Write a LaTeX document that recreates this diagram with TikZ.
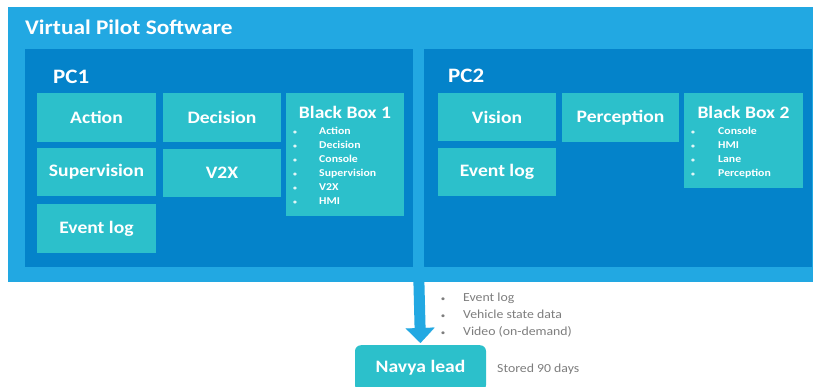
\documentclass[tikz,border=0pt]{standalone}
\usepackage{fontspec}
\setmainfont{Carlito}[FakeStretch=1.12]
\usetikzlibrary{arrows.meta}
\definecolor{outerblue}{RGB}{34,168,226}
\definecolor{pcblue}{RGB}{4,131,202}
\definecolor{tealbox}{RGB}{44,192,203}
\definecolor{graytext}{RGB}{125,125,125}
\begin{document}
\begin{tikzpicture}[x=1pt,y=-1pt,
  panel/.style={anchor=north west, inner sep=0pt, outer sep=0pt, draw=none},
  module/.style={panel, fill=tealbox, text=white, font=\bfseries\fontsize{17.5}{20}\selectfont, align=center},
  bigtitle/.style={anchor=base west, inner sep=0pt, text=white, font=\bfseries\fontsize{20.8}{24}\selectfont},
  pctitle/.style={anchor=base west, inner sep=0pt, text=white, font=\bfseries\fontsize{20.5}{22}\selectfont},
  bbtitle/.style={anchor=base, inner sep=0pt, text=white, font=\bfseries\fontsize{17.5}{20}\selectfont},
  bbitem/.style={anchor=base west, inner sep=0pt, text=white, font=\bfseries\fontsize{10.5}{12}\selectfont},
  bbdot/.style={anchor=base, inner sep=0pt, text=white!85!tealbox, font=\bfseries\fontsize{7}{10}\selectfont},
  grayitem/.style={anchor=base west, inner sep=0pt, text=graytext, font=\fontsize{12.3}{14}\selectfont},
  graydot/.style={anchor=base, inner sep=0pt, text=graytext, font=\fontsize{8}{10}\selectfont}
]
\clip (0,0) rectangle (813,387);

% outer and PC panels
\node[panel, fill=outerblue, minimum width=805pt, minimum height=275pt] (vps) at (8,7) {};
\node[panel, fill=pcblue, minimum width=388pt, minimum height=218pt] (pc1) at (25,49) {};
\node[panel, fill=pcblue, minimum width=388pt, minimum height=218pt] (pc2) at (424,49) {};

\node[bigtitle] (vpstitle) at (25,35) {Virtual Pilot Software};
\node[pctitle] (pc1title) at (53,84) {PC1};
\node[pctitle] (pc2title) at (448,83) {PC2};

% PC1 modules
\node[module, minimum width=119pt, minimum height=49pt] (action) at (37,93) {Action};
\node[module, minimum width=118pt, minimum height=49pt] (decision) at (163,93) {Decision};
\node[module, minimum width=119pt, minimum height=48pt] (supervision) at (37,148) {Supervision};
\node[module, minimum width=118pt, minimum height=48pt] (v2x) at (163,149) {V2X};
\node[module, minimum width=119pt, minimum height=49pt] (eventlog1) at (37,204) {Event log};
\node[module, minimum width=118pt, minimum height=123pt] (bb1) at (286,93) {};
\node[bbtitle] (bb1title) at (345,119) {Black Box 1};
\foreach \t [count=\i] in {Action,Decision,Console,Supervision,V2X,HMI} {
  \node[bbdot] (bb1dot\i) at (295,{121+14*\i}) {•};
  \node[bbitem] (bb1item\i) at (319,{121+14*\i}) {\t};
}

% PC2 modules
\node[module, minimum width=118pt, minimum height=48pt] (vision) at (438,93) {Vision};
\node[module, minimum width=117pt, minimum height=49pt] (perception) at (562,93) {Perception};
\node[module, minimum width=118pt, minimum height=48pt] (eventlog2) at (438,148) {Event log};
\node[module, minimum width=119pt, minimum height=95pt] (bb2) at (684,93) {};
\node[bbtitle] (bb2title) at (743.5,119) {Black Box 2};
\foreach \t [count=\i] in {Console,HMI,Lane,Perception} {
  \node[bbdot] (bb2dot\i) at (693,{121+14*\i}) {•};
  \node[bbitem] (bb2item\i) at (718,{121+14*\i}) {\t};
}

% Navya lead
\node[anchor=north, fill=tealbox, text=white, rounded corners=6pt, minimum width=131pt, minimum height=46pt, inner sep=0pt,
  font=\bfseries\fontsize{17.5}{20}\selectfont] (navya) at (420.5,345) {Navya lead};

\coordinate (arrowstart) at (418.5,266);
\draw[outerblue, line width=11pt, -{Triangle[width=29pt,length=15pt,line width=0.1pt]}, shorten >=2pt] (arrowstart) -- (navya.north);

% transferred data
\foreach \t [count=\i] in {Event log,Vehicle state data,Video (on-demand)} {
  \node[graydot] (gdot\i) at (443,{284+17*\i}) {•};
  \node[grayitem] (gitem\i) at (463,{284+17*\i}) {\t};
}
\node[grayitem] (stored) at (497,372) {Stored 90 days};
\end{tikzpicture}
\end{document}
